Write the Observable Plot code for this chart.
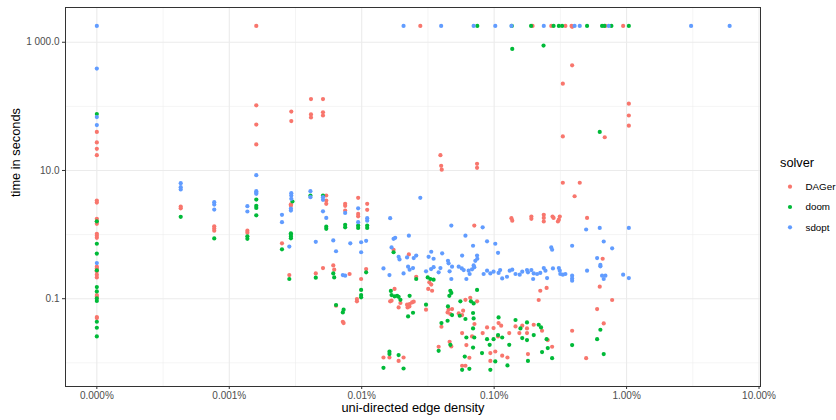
<!DOCTYPE html>
<html><head><meta charset="utf-8">
<script src="https://cdn.jsdelivr.net/npm/d3@7"></script>
<script src="https://cdn.jsdelivr.net/npm/@observablehq/plot@0.6"></script>
<style>body{margin:0;background:#fff;overflow:hidden}</style>
</head><body><div id="chart"></div>
<script>
const solvers = ["DAGer", "doom", "sdopt"];
const solverColors = ["#F8766D", "#00BA38", "#619CFF"];

const xTicks = [1e-6, 1e-5, 1e-4, 1e-3, 1e-2, 1e-1];
const xTickLabels = ["0.000%", "0.001%", "0.01%", "0.10%", "1.00%", "10.00%"];
const yTicks = [0.1, 10, 1000];
const yTickLabels = ["0.1", "10.0", "1 000.0"];
const xTitle = "uni-directed edge density";
const yTitle = "time in seconds";
const legendTitle = "solver";

// [density (fraction), time in seconds]
const dagerPoints = [
[1e-6,40],[1e-6,27.4],[1e-6,21.8],[1e-6,17.3],[1e-6,3.4],[1e-6,3.16],[1e-6,1.76],[1e-6,1.6],[1e-6,1.47],[1e-6,1.03],[1e-6,0.96],[1e-6,0.89],[1e-6,0.316],[1e-6,0.297],[1e-6,0.267],[1e-6,0.237],[1e-6,0.215],[1e-6,0.114],[1e-6,0.107],[1e-6,0.0518],[1e-6,0.0499],
[4.3e-6,2.74],[4.3e-6,2.57],
[7.7e-6,1.35],[7.7e-6,1.25],[7.7e-6,1.15],
[1.37e-5,1.15],[1.37e-5,1.07],
[1.6e-5,1800],[1.6e-5,104],[1.6e-5,52],[1.6e-5,25.5],
[2.5e-5,0.73],[2.84e-5,0.234],[2.92e-5,2.97],[2.92e-5,2.81],[2.94e-5,83],[2.94e-5,59],
[4.14e-5,130],[4.14e-5,75],[4.14e-5,67],[4.5e-5,0.248],[5.1e-5,0.30],
[5.1e-5,130],[5.1e-5,81],[5.1e-5,72],[5.4e-5,4.07],[5.4e-5,3.4],[5.4e-5,3.02],
[6.1e-5,0.33],[6.2e-5,0.284],[6.4e-5,0.0778],[7.2e-5,0.0437],[7.3e-5,0.0417],
[7.5e-5,3.02],[7.5e-5,2.81],[7.5e-5,2.37],[8.1e-5,0.243],[9.2e-5,0.099],[9.2e-5,0.091],
[9.4e-5,3.74],[9.4e-5,2.1],[9.4e-5,1.93],[9.9e-5,0.203],[1.08e-4,0.29],[1.1e-4,3.02],[1.1e-4,2.43],
[1.46e-4,0.0121],[1.62e-4,0.0121],[1.64e-4,0.091],[1.68e-4,0.093],[1.74e-4,0.58],[1.77e-4,0.142],
[1.9e-4,0.0731],[1.9e-4,0.0107],[1.96e-4,0.0857],[2.07e-4,0.0121],
[2.2e-4,0.0806],[2.22e-4,0.0731],[2.27e-4,0.49],[2.29e-4,0.0759],[2.3e-4,0.0826],[2.4e-4,0.0875],[2.47e-4,0.09],
[2.58e-4,0.22],[2.77e-4,1800],[3.06e-4,0.0673],
[3.18e-4,0.142],[3.24e-4,0.18],[3.35e-4,0.166],[3.4e-4,0.133],[3.81e-4,0.0178],
[3.93e-4,17.3],[3.98e-4,11.8],[4.02e-4,10.3],[4.0e-4,0.0365],
[4.45e-4,0.061],[4.53e-4,0.0673],[4.61e-4,0.0213],[4.67e-4,0.0577],[4.75e-4,0.018],[4.81e-4,0.069],
[5.4e-4,0.0589],[5.73e-4,0.0556],[5.73e-4,0.0291],[5.73e-4,0.009],[5.83e-4,0.065],
[6.07e-4,0.096],[6.07e-4,0.009],[6.17e-4,0.0189],[6.5e-4,0.012],[6.6e-4,0.103],[6.81e-4,0.0258],
[7.08e-4,1.38],[7.1e-4,0.0403],[7.43e-4,0.091],[7.43e-4,12.7],[7.43e-4,11.0],
[8.19e-4,0.0291],[8.84e-4,0.0356],[9.36e-4,0.0142],[9.36e-4,0.0107],[9.9e-4,0.0348],
[1.02e-3,0.015],[1.07e-3,0.0258],[1.08e-3,0.0417],[1.13e-3,0.0379],[1.15e-3,0.0129],[1.26e-3,0.0121],[1.3e-3,0.0291],
[1.35e-3,1.8],[1.37e-3,1.65],[1.45e-3,0.0369],[1.55e-3,0.0291],[1.63e-3,0.0379],
[1.77e-3,0.0344],[1.77e-3,0.0291],[1.8e-3,0.0137],[1.91e-3,1.91],[1.91e-3,1.76],[1.95e-3,1800],
[1.99e-3,0.0392],[2.17e-3,0.0955],[2.23e-3,0.133],[2.3e-3,0.0316],
[2.37e-3,2.03],[2.37e-3,1.82],[2.37e-3,1.6],[2.49e-3,0.147],[2.54e-3,0.0226],[2.7e-3,1800],[2.74e-3,0.0178],
[2.76e-3,1.91],[2.81e-3,1.82],[3.03e-3,1.6],[3.08e-3,1.71],[3.13e-3,1.91],
[3.3e-3,6.43],[3.3e-3,226],[3.3e-3,34],[3.45e-3,1800],
[3.84e-3,1800],[3.88e-3,1740],[3.88e-3,437],[3.88e-3,0.0316],[4.05e-3,3.96],[4.43e-3,6.43],
[4.95e-3,0.0118],[5.03e-3,1.82],[5.99e-3,0.069],[6.27e-3,0.154],[6.6e-3,0.42],[6.72e-3,0.0411],
[6.84e-3,33],[6.92e-3,1800],[7.78e-3,0.0955],[9.42e-3,1800],[1.04e-2,110],[1.04e-2,72],[1.04e-2,50]
];

const doomPoints = [
[1e-6,76],[1e-6,1.61],[1e-6,0.72],[1e-6,0.505],[1e-6,0.277],[1e-6,0.152],[1e-6,0.13],[1e-6,0.101],[1e-6,0.092],[1e-6,0.0437],[1e-6,0.0352],[1e-6,0.0258],
[4.3e-6,1.89],[7.7e-6,0.87],[1.37e-5,0.94],[1.37e-5,0.86],
[1.6e-5,3.52],[1.6e-5,2.81],[1.6e-5,2.61],[1.6e-5,2.0],
[2.5e-5,0.59],[2.84e-5,0.203],[2.92e-5,1.05],[2.92e-5,0.99],[2.92e-5,0.93],[2.92e-5,0.875],[3.0e-5,3.28],
[4.1e-5,4.07],[4.5e-5,0.213],[5.1e-5,4.07],[5.4e-5,1.33],[5.4e-5,1.23],
[6.1e-5,0.248],[6.2e-5,0.215],[6.4e-5,0.0797],[7.2e-5,0.061],[7.3e-5,0.0673],
[7.5e-5,1.42],[7.5e-5,1.3],[9.4e-5,1.38],[9.4e-5,1.27],
[9.9e-5,0.137],[9.9e-5,0.114],[9.9e-5,0.105],[1.08e-4,0.258],[1.1e-4,1.38],[1.1e-4,1.27],
[1.46e-4,0.00836],[1.62e-4,0.0149],[1.62e-4,0.0137],[1.66e-4,0.132],[1.68e-4,0.114],[1.74e-4,0.53],
[1.77e-4,0.109],[1.85e-4,0.111],[1.9e-4,0.107],[1.9e-4,0.0132],[1.96e-4,0.096],[2.07e-4,0.00815],
[2.24e-4,0.0529],[2.3e-4,0.111],[2.44e-4,0.0604],[2.58e-4,0.203],[3.06e-4,0.0806],
[3.15e-4,0.215],[3.3e-4,0.203],[3.49e-4,0.198],[3.81e-4,0.0154],[4.0e-4,0.0417],
[4.45e-4,0.0453],[4.48e-4,0.0759],[4.59e-4,0.111],[4.67e-4,0.133],[4.67e-4,0.0191],[4.75e-4,0.123],[4.81e-4,0.0556],
[5.5e-4,0.0542],[5.56e-4,0.091],[5.73e-4,0.00778],[6.0e-4,0.0125],[6.07e-4,0.0482],[6.17e-4,0.0248],[6.5e-4,0.00806],
[6.68e-4,0.091],[6.93e-4,0.0598],[6.93e-4,0.0344],[6.93e-4,0.0173],[7.0e-4,0.0845],[7.0e-4,0.0492],[7.08e-4,0.0248],
[7.43e-4,0.137],[7.46e-4,1800],[8.1e-4,0.0142],[8.84e-4,0.0234],[9.25e-4,0.0191],[9.36e-4,0.00778],[9.9e-4,0.0234],
[1.02e-3,0.0105],[1.07e-3,0.0271],[1.08e-3,0.051],[1.15e-3,0.0248],[1.26e-3,0.0091],[1.3e-3,0.0191],
[1.37e-3,786],[1.36e-3,1800],[1.45e-3,0.0465],[1.58e-3,0.0344],[1.63e-3,0.0243],[1.77e-3,0.0427],[1.77e-3,0.0226],
[1.8e-3,0.0107],[1.9e-3,1800],[1.99e-3,0.0271],[2.17e-3,0.0392],[2.26e-3,0.0356],[2.3e-3,0.0147],[2.36e-3,887],
[2.49e-3,0.0234],[2.54e-3,0.017],[2.74e-3,0.0118],[2.81e-3,1800],[3.08e-3,1800],[3.26e-3,1800],[3.88e-3,0.0189],
[5.03e-3,1800],[5.99e-3,0.0234],[6.27e-3,40],[6.34e-3,0.0328],[6.53e-3,1800],[6.72e-3,0.0137],[6.8e-3,1800],
[7.68e-3,1800],[1.04e-2,1800]
];

const sdoptPoints = [
[1e-6,1800],[1e-6,388],[1e-6,68],[1e-6,51],[1e-6,0.36],
[4.3e-6,6.34],[4.3e-6,5.49],[4.3e-6,5.05],[7.7e-6,3.2],[7.7e-6,2.94],[7.7e-6,2.46],
[1.37e-5,2.77],[1.37e-5,2.29],[1.6e-5,8.45],[1.6e-5,4.75],[1.6e-5,4.48],[1.6e-5,4.32],
[2.5e-5,2.03],[2.5e-5,1.56],[2.84e-5,0.65],[2.94e-5,4.42],[2.94e-5,4.07],[2.94e-5,3.61],[2.92e-5,2.55],[2.92e-5,2.37],
[4.1e-5,4.75],[4.1e-5,3.83],[4.5e-5,0.77],[5.1e-5,3.83],[5.1e-5,3.49],[5.1e-5,2.31],[5.4e-5,1.82],
[6.1e-5,0.81],[6.4e-5,0.55],[7.2e-5,0.234],[7.5e-5,0.229],[7.5e-5,2.18],[8.2e-5,0.73],
[9.4e-5,2.57],[9.4e-5,1.56],[9.9e-5,0.53],[9.9e-5,0.76],[1.08e-4,0.8],[1.1e-4,1.8],[1.1e-4,1.65],
[1.46e-4,0.297],[1.62e-4,0.234],[1.64e-4,1.8],[1.68e-4,0.63],[1.74e-4,0.86],[1.79e-4,0.89],
[1.9e-4,0.45],[1.93e-4,0.41],[2.07e-4,0.248],[2.07e-4,1800],[2.2e-4,0.44],[2.24e-4,0.316],[2.27e-4,0.96],
[2.3e-4,0.284],[2.44e-4,0.30],[2.47e-4,0.43],[2.58e-4,0.47],[2.77e-4,3.74],[3.06e-4,0.267],
[3.2e-4,0.45],[3.34e-4,0.29],[3.35e-4,0.54],[3.49e-4,0.42],[3.49e-4,0.31],[3.81e-4,0.258],[3.93e-4,0.30],
[3.98e-4,1800],[4.05e-4,0.51],[4.48e-4,0.39],[4.53e-4,0.356],[4.61e-4,0.267],[4.75e-4,1.38],[4.75e-4,0.203],
[4.81e-4,0.316],[5.4e-4,0.316],[5.7e-4,0.297],[5.73e-4,0.47],[5.89e-4,0.28],[6.07e-4,0.96],[6.17e-4,0.203],
[6.42e-4,0.274],[6.53e-4,0.243],[6.81e-4,0.287],[6.93e-4,0.67],[7.0e-4,0.33],[7.0e-4,1800],
[7.08e-4,0.31],[7.21e-4,0.39],[7.43e-4,0.47],[7.46e-4,0.42],[8.19e-4,1.3],[8.33e-4,0.243],
[8.84e-4,0.785],[8.84e-4,0.274],[9.36e-4,0.248],[9.9e-4,0.264],[1.02e-3,0.72],[1.02e-3,1800],
[1.07e-3,0.52],[1.08e-3,0.252],[1.11e-3,0.28],[1.15e-3,0.207],[1.25e-3,0.22],[1.31e-3,0.274],[1.35e-3,1800],
[1.37e-3,0.284],[1.45e-3,0.243],[1.56e-3,0.237],[1.63e-3,0.264],[1.77e-3,0.28],[1.8e-3,0.258],[1.91e-3,0.28],
[1.97e-3,0.203],[1.99e-3,0.248],[2.11e-3,0.243],[2.23e-3,0.252],[2.37e-3,0.30],[2.37e-3,1800],[2.44e-3,0.274],
[2.51e-3,0.21],[2.7e-3,0.63],[2.74e-3,0.58],[2.78e-3,0.297],[3.08e-3,0.30],[3.13e-3,0.274],[3.16e-3,0.243],
[3.3e-3,0.237],[3.45e-3,0.243],[3.88e-3,0.67],[3.88e-3,0.229],[3.88e-3,0.207],[3.88e-3,0.191],
[4.05e-3,1800],[4.43e-3,1800],[4.95e-3,1.2],[5.03e-3,0.274],[5.99e-3,0.43],[6.27e-3,1.27],
[6.34e-3,0.336],[6.34e-3,0.32],[6.53e-3,0.229],[6.72e-3,0.78],[6.72e-3,0.203],[6.92e-3,0.229],
[7.33e-3,1800],[7.78e-3,0.61],[9.42e-3,0.237],[1.04e-2,1.27],[1.04e-2,0.21],[3.07e-2,1800],[6.0e-2,1800]
];

const pointsBySolver = [dagerPoints, doomPoints, sdoptPoints];
const rows = [];
pointsBySolver.forEach((pts, s) => pts.forEach(([density, time]) => rows.push({solver: solvers[s], density, time})));

const xLabel = new Map(xTicks.map((t, i) => [t, xTickLabels[i]]));
const yLabel = new Map(yTicks.map((t, i) => [t, yTickLabels[i]]));
const xMinor = xTicks.slice(0, -1).map((t, i) => Math.sqrt(t * xTicks[i + 1]));
const yMinor = [yTicks[0] / 10, ...yTicks.slice(0, -1).map((t, i) => Math.sqrt(t * yTicks[i + 1]))];

const font = "'Liberation Sans', Arial, Helvetica, sans-serif";
const plot = Plot.plot({
  width: 836, height: 420,
  marginTop: 7, marginBottom: 34, marginLeft: 65, marginRight: 76,
  style: {fontFamily: font, fontSize: "10px", background: "white", overflow: "hidden"},
  x: {type: "log", domain: [5.8e-7, 0.1026]},
  y: {type: "log", domain: [0.00427, 3485]},
  color: {domain: solvers, range: solverColors},
  marks: [
    Plot.ruleX(xMinor, {stroke: "#EBEBEB", strokeWidth: 0.55}),
    Plot.ruleY(yMinor, {stroke: "#EBEBEB", strokeWidth: 0.55}),
    Plot.ruleX(xTicks, {stroke: "#EBEBEB", strokeWidth: 1.1}),
    Plot.ruleY(yTicks, {stroke: "#EBEBEB", strokeWidth: 1.1}),
    Plot.dot(rows, {x: "density", y: "time", fill: "solver", r: 2.1}),
    Plot.frame({stroke: "#333333", strokeWidth: 1}),
    Plot.axisX(xTicks, {tickSize: 3, tickPadding: 2, tickFormat: d => xLabel.get(d), label: null, stroke: "#333333", fill: "#4D4D4D", fontSize: 10}),
    Plot.axisY(yTicks, {tickSize: 3, tickPadding: 3, tickFormat: d => yLabel.get(d), label: null, stroke: "#333333", fill: "#4D4D4D", fontSize: 10}),
    Plot.text([xTitle], {frameAnchor: "bottom", dy: 25, fontSize: 12.8, fill: "black"}),
    Plot.text([yTitle], {frameAnchor: "left", dx: -50, rotate: -90, fontSize: 12.8, fill: "black"})
  ]
});

const svg = d3.select(plot);
const lg = svg.append("g").attr("font-family", font).attr("text-anchor", "start");
lg.append("text").attr("x", 780).attr("y", 163).attr("dy", "0.35em").attr("font-size", 12.8).attr("fill", "black").text(legendTitle);
solvers.forEach((s, i) => {
  const cy = 186.7 + i * 20.3;
  lg.append("circle").attr("cx", 790).attr("cy", cy).attr("r", 2.1).attr("fill", solverColors[i]);
  lg.append("text").attr("x", 805.5).attr("y", cy).attr("dy", "0.35em").attr("font-size", 9.8).attr("fill", "black").text(s);
});

document.getElementById("chart").append(plot);
</script>
</body></html>
